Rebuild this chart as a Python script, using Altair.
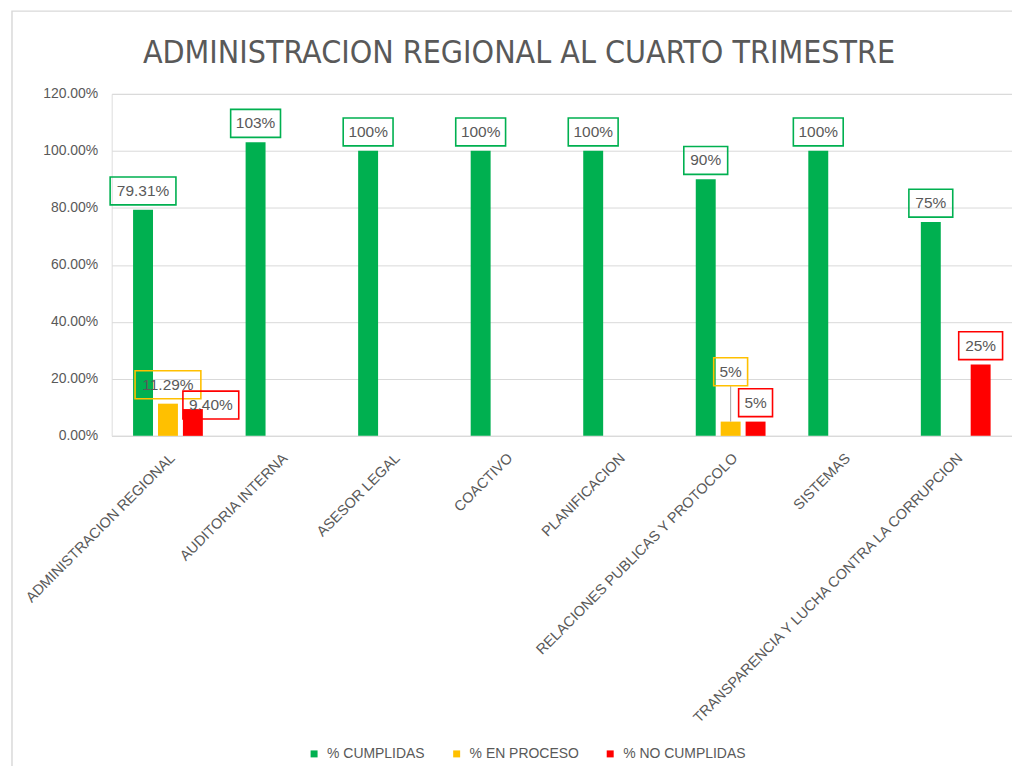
import altair as alt
import pandas as pd

categorias = [
    "ADMINISTRACION REGIONAL",
    "AUDITORIA INTERNA",
    "ASESOR LEGAL",
    "COACTIVO",
    "PLANIFICACION",
    "RELACIONES PUBLICAS Y PROTOCOLO",
    "SISTEMAS",
    "TRANSPARENCIA Y LUCHA CONTRA LA CORRUPCION",
]
series = ["% CUMPLIDAS", "% EN PROCESO", "% NO CUMPLIDAS"]
colores = ["#00B050", "#FFC000", "#FF0000"]

cumplidas = [0.7931, 1.03, 1.00, 1.00, 1.00, 0.90, 1.00, 0.75]
en_proceso = [0.1129, None, None, None, None, 0.05, None, None]
no_cumplidas = [0.0940, None, None, None, None, 0.05, None, 0.25]

etiquetas_cumplidas = ["79.31%", "103%", "100%", "100%", "100%", "90%", "100%", "75%"]
etiquetas_proceso = ["11.29%", None, None, None, None, "5%", None, None]
etiquetas_no = ["9.40%", None, None, None, None, "5%", None, "25%"]

rows = []
for serie, vals, labs in zip(series, [cumplidas, en_proceso, no_cumplidas],
                             [etiquetas_cumplidas, etiquetas_proceso, etiquetas_no]):
    for c, v, l in zip(categorias, vals, labs):
        if v is not None:
            rows.append({"categoria": c, "serie": serie, "valor": v,
                         "etiqueta": l, "largo": len(l)})
df = pd.DataFrame(rows)

FONT = "Liberation Sans, Arial, sans-serif"
GRAY = "#595959"


def box_path(half_w, shift=0.0, half_h=1.4):
    a = (shift - half_w) / 10.0
    b = (shift + half_w) / 10.0
    return f"M{a:.2f},{-half_h}H{b:.2f}V{half_h}H{a:.2f}Z"


box_lengths = [2, 3, 4, 5, 6]
box_half = [17, 22, 25, 28, 33]
box_paths = [box_path(h) for h in box_half]

X = alt.X("categoria:N", sort=categorias, title=None,
          scale=alt.Scale(paddingInner=0.38, paddingOuter=0.19),
          axis=alt.Axis(labelAngle=-45, labelFontSize=14.5, labelColor=GRAY, labelFont=FONT,
                        labelLimit=600, ticks=False, domainColor="#d9d9d9", domainWidth=1,
                        labelPadding=15, grid=False))
XO = alt.XOffset("serie:N", sort=series,
                 scale=alt.Scale(domain=series, paddingInner=0.2, paddingOuter=0))
Y = alt.Y("valor:Q", title=None,
          scale=alt.Scale(domain=[0, 1.2], nice=False),
          axis=alt.Axis(format=".2%", values=[0, 0.2, 0.4, 0.6, 0.8, 1.0, 1.2],
                        labelFontSize=14, labelColor=GRAY, labelFont=FONT, ticks=False,
                        domain=False, labelPadding=14, gridColor="#d9d9d9", gridWidth=1))

base = alt.Chart(df)

bars = base.mark_bar().encode(
    x=X, xOffset=XO, y=Y,
    color=alt.Color("serie:N", sort=series,
                    scale=alt.Scale(domain=series, range=colores),
                    legend=alt.Legend(title=None, orient="none", legendX=196, legendY=655,
                                      direction="horizontal", symbolType="square",
                                      symbolSize=49, symbolStrokeWidth=0,
                                      labelFontSize=14, labelColor=GRAY, labelFont=FONT,
                                      labelOffset=6, columnPadding=24, padding=0)),
)

es_no_admin = "datum.categoria === 'ADMINISTRACION REGIONAL' && datum.serie === '% NO CUMPLIDAS'"
es_proc_rp = "datum.categoria === 'RELACIONES PUBLICAS Y PROTOCOLO' && datum.serie === '% EN PROCESO'"
normal = f"!({es_no_admin}) && !({es_proc_rp})"

stroke_enc = alt.Stroke("serie:N", scale=alt.Scale(domain=series, range=colores), legend=None)

text_normal = base.transform_filter(normal).mark_text(
    dy=-19, fontSize=15.5, color=GRAY, font=FONT, baseline="middle"
).encode(x=X, xOffset=XO, y=Y, text="etiqueta:N")

box_normal = base.transform_filter(normal).mark_point(
    filled=False, strokeWidth=1.6, opacity=1, yOffset=-19
).encode(
    x=X, xOffset=XO, y=Y,
    shape=alt.Shape("largo:O", scale=alt.Scale(domain=box_lengths, range=box_paths), legend=None),
    stroke=stroke_enc, size=alt.value(400),
)

text_no_admin = base.transform_filter(es_no_admin).mark_text(
    dx=18, dy=-4, fontSize=15.5, color=GRAY, font=FONT, baseline="middle"
).encode(x=X, xOffset=XO, y=Y, text="etiqueta:N")

box_no_admin = base.transform_filter(es_no_admin).mark_point(
    filled=False, strokeWidth=1.6, opacity=1, yOffset=-4,
    shape=box_path(28, shift=18)
).encode(x=X, xOffset=XO, y=Y, stroke=stroke_enc, size=alt.value(400))

leader = base.transform_filter(es_proc_rp).mark_rule(
    color="#a6a6a6", strokeWidth=1, y2Offset=-36
).encode(x=X, xOffset=XO, y=Y, y2="valor:Q")

text_proc_rp = base.transform_filter(es_proc_rp).mark_text(
    dy=-50, fontSize=15.5, color=GRAY, font=FONT, baseline="middle"
).encode(x=X, xOffset=XO, y=Y, text="etiqueta:N")

box_proc_rp = base.transform_filter(es_proc_rp).mark_point(
    filled=False, strokeWidth=1.6, opacity=1, yOffset=-50, shape=box_path(17)
).encode(x=X, xOffset=XO, y=Y, stroke=stroke_enc, size=alt.value(400))

borde = alt.Chart(alt.Data(values=[{}])).mark_rect(
    fill=None, stroke="#d9d9d9", strokeWidth=1.5
).encode(x=alt.value(-100), x2=alt.value(1100), y=alt.value(-83), y2=alt.value(800))

chart = alt.layer(
    borde, bars, leader, box_normal, text_normal, box_no_admin, text_no_admin,
    box_proc_rp, text_proc_rp
).properties(
    width=903, height=343,
    padding={"left": 104, "top": 85, "right": 0, "bottom": 330},
    autosize=alt.AutoSizeParams(type="none"),
    title=alt.TitleParams(
        "ADMINISTRACION REGIONAL AL CUARTO TRIMESTRE",
        fontSize=32, font="Liberation Sans Narrow, DejaVu Sans Condensed, Arial, sans-serif",
        color=GRAY, fontWeight="normal", anchor="middle", frame="group",
        dx=-43, offset=-85, baseline="alphabetic",
    ),
).configure_view(stroke=None).configure(background="white")

chart.save("out.html", embed_options={"renderer": "svg", "actions": False})
